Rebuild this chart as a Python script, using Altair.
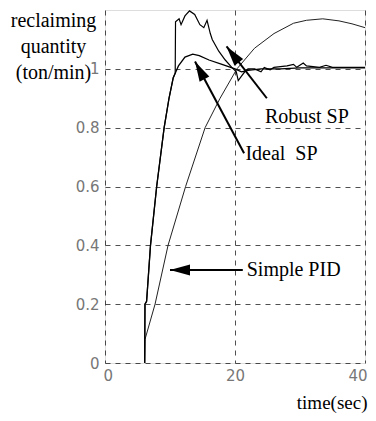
import math
import altair as alt
import pandas as pd

# ---- data ----
t_robust = [6.1, 6.15, 6.4, 7.0, 7.95, 9.1, 9.85, 10.5, 10.8, 10.85, 11.4, 11.7, 12.3, 13.0, 13.8,
            14.6, 15.2, 15.7, 16.2, 16.5, 17.5, 18.5, 19.5, 20.2, 20.5, 21.0, 21.5, 22.0, 23.0, 24.0,
            24.5, 25.4, 26.0, 28.0, 29.0, 29.5, 30.5, 31.0, 33.0, 34.0, 35.0, 40.0]
y_robust = [0, 0.2, 0.21, 0.4, 0.6, 0.8, 0.9, 0.97, 0.985, 1.16, 1.17, 1.15, 1.18, 1.197, 1.185,
            1.15, 1.14, 1.165, 1.12, 1.10, 1.06, 1.03, 1.005, 0.99, 0.96, 0.975, 0.99, 1.0, 1.0, 0.99,
            1.005, 0.997, 1.005, 1.01, 1.015, 1.005, 1.02, 1.01, 1.005, 1.012, 1.005, 1.005]

t_ideal = [6.1, 6.15, 6.4, 7.0, 7.95, 9.1, 9.85, 10.5, 10.8, 11.3, 12.3, 13.5, 14.5, 16.0, 18.0, 20.0,
           21.0, 22.0, 24.0, 27.0, 30.0, 35.0, 40.0]
y_ideal = [0, 0.2, 0.21, 0.4, 0.6, 0.8, 0.9, 0.97, 0.985, 1.01, 1.04, 1.05, 1.045, 1.03, 1.015, 1.0,
           0.99, 0.995, 1.0, 1.0, 1.003, 1.003, 1.003]

t_pid = [6.1, 6.15, 7.7, 9.7, 12.4, 15.4, 17.7, 20.3, 23.0, 26.0, 29.0, 31.0, 33.5, 36.0, 38.0, 40.0]
y_pid = [0, 0.08, 0.2, 0.4, 0.6, 0.8, 0.9, 1.0, 1.07, 1.12, 1.155, 1.165, 1.17, 1.163, 1.153, 1.14]

label_text = ["Robust SP", "Ideal\u00a0\u00a0SP", "Simple PID"]
label_t = [24.6, 21.6, 21.8]
label_y = [0.837, 0.71, 0.316]
arrow_t_from = [24.9, 21.4, 21.2]
arrow_y_from = [0.90, 0.713, 0.316]
arrow_t_tip = [18.7, 13.85, 10.0]
arrow_y_tip = [1.076, 1.025, 0.316]

x_ticks = [0, 20, 40]
y_ticks = [0, 0.2, 0.4, 0.6, 0.8, 1.0]

W, H = 260, 353
X_DOM = [0, 40]
Y_DOM = [0, 1.2]

rows = []
for name, ts, ys in [("robust", t_robust, y_robust), ("ideal", t_ideal, y_ideal), ("pid", t_pid, y_pid)]:
    for i, (t, y) in enumerate(zip(ts, ys)):
        rows.append({"series": name, "t": t, "y": y, "i": i})
df = pd.DataFrame(rows)

px_x = W / (X_DOM[1] - X_DOM[0])
px_y = H / (Y_DOM[1] - Y_DOM[0])
arrows = []
for a, b, c, d in zip(arrow_t_from, arrow_y_from, arrow_t_tip, arrow_y_tip):
    dx = (c - a) * px_x
    dy = -(d - b) * px_y
    ang = math.degrees(math.atan2(dx, -dy)) % 360
    arrows.append({"t1": a, "y1": b, "t2": c, "y2": d, "angle": ang})
adf = pd.DataFrame(arrows)
ldf = pd.DataFrame({"t": label_t, "y": label_y, "text": label_text})

xs = alt.Scale(domain=X_DOM, nice=False)
ys = alt.Scale(domain=Y_DOM, nice=False)

x_axis = alt.Axis(values=x_ticks, title="time(sec)", grid=True, gridDash=[5, 5], gridColor="#222",
                  gridWidth=0.8, ticks=False, domain=False, labelFont="DejaVu Sans", labelFontSize=15,
                  labelColor="#777", labelPadding=5, labelFlush=True, labelFlushOffset=2,
                  titleFont="Liberation Serif", titleFontSize=19,
                  titleFontWeight="normal", titleColor="#000", titleAnchor="end", titleAlign="right",
                  titleX=262, titleY=45, titleBaseline="alphabetic")
y_axis = alt.Axis(values=y_ticks, format=".1~f", title=["reclaiming", "quantity", "(ton/min)"],
                  grid=True, gridDash=[5, 5], gridColor="#222", gridWidth=0.8, ticks=False, domain=False,
                  labelFont="DejaVu Sans", labelFontSize=15, labelColor="#777", labelPadding=6,
                  titleFont="Liberation Serif", titleFontSize=20, titleFontWeight="normal",
                  titleColor="#000", titleAngle=0, titleAlign="center", titleBaseline="alphabetic",
                  titleX=-52, titleY=16, titleLineHeight=26)

base = alt.Chart(df)
grid_layer = base.mark_line(opacity=0).encode(
    x=alt.X("t:Q", scale=xs, axis=x_axis),
    y=alt.Y("y:Q", scale=ys, axis=y_axis),
)

def line(name, width, color):
    return base.transform_filter(alt.datum.series == name).mark_line(
        strokeWidth=width, color=color, clip=True
    ).encode(x=alt.X("t:Q", scale=xs), y=alt.Y("y:Q", scale=ys), order="i:Q")

rules = alt.Chart(adf).mark_rule(color="#000", strokeWidth=2).encode(
    x=alt.X("t1:Q", scale=xs), y=alt.Y("y1:Q", scale=ys), x2="t2:Q", y2="y2:Q")
heads = alt.Chart(adf).mark_point(
    shape="M0,0L-0.55,2L0.55,2Z", filled=True, color="#000", opacity=1, size=400, strokeWidth=0
).encode(x=alt.X("t2:Q", scale=xs), y=alt.Y("y2:Q", scale=ys), angle=alt.Angle("angle:Q", scale=None))
texts = alt.Chart(ldf).mark_text(
    align="left", baseline="middle", font="Liberation Serif", fontSize=20, color="#000"
).encode(x=alt.X("t:Q", scale=xs), y=alt.Y("y:Q", scale=ys), text="text:N")

chart = alt.layer(
    grid_layer,
    line("pid", 1.0, "#222"),
    line("ideal", 1.3, "#000"),
    line("robust", 1.2, "#000"),
    rules, heads, texts,
).properties(
    width=W, height=H,
    autosize=alt.AutoSizeParams(type="none"),
    padding={"left": 97, "top": 2, "right": 3, "bottom": 50},
).configure_view(stroke="#000", strokeWidth=1.2).configure(background="white")

chart.save("out.html", embed_options={"renderer": "svg", "actions": False})
